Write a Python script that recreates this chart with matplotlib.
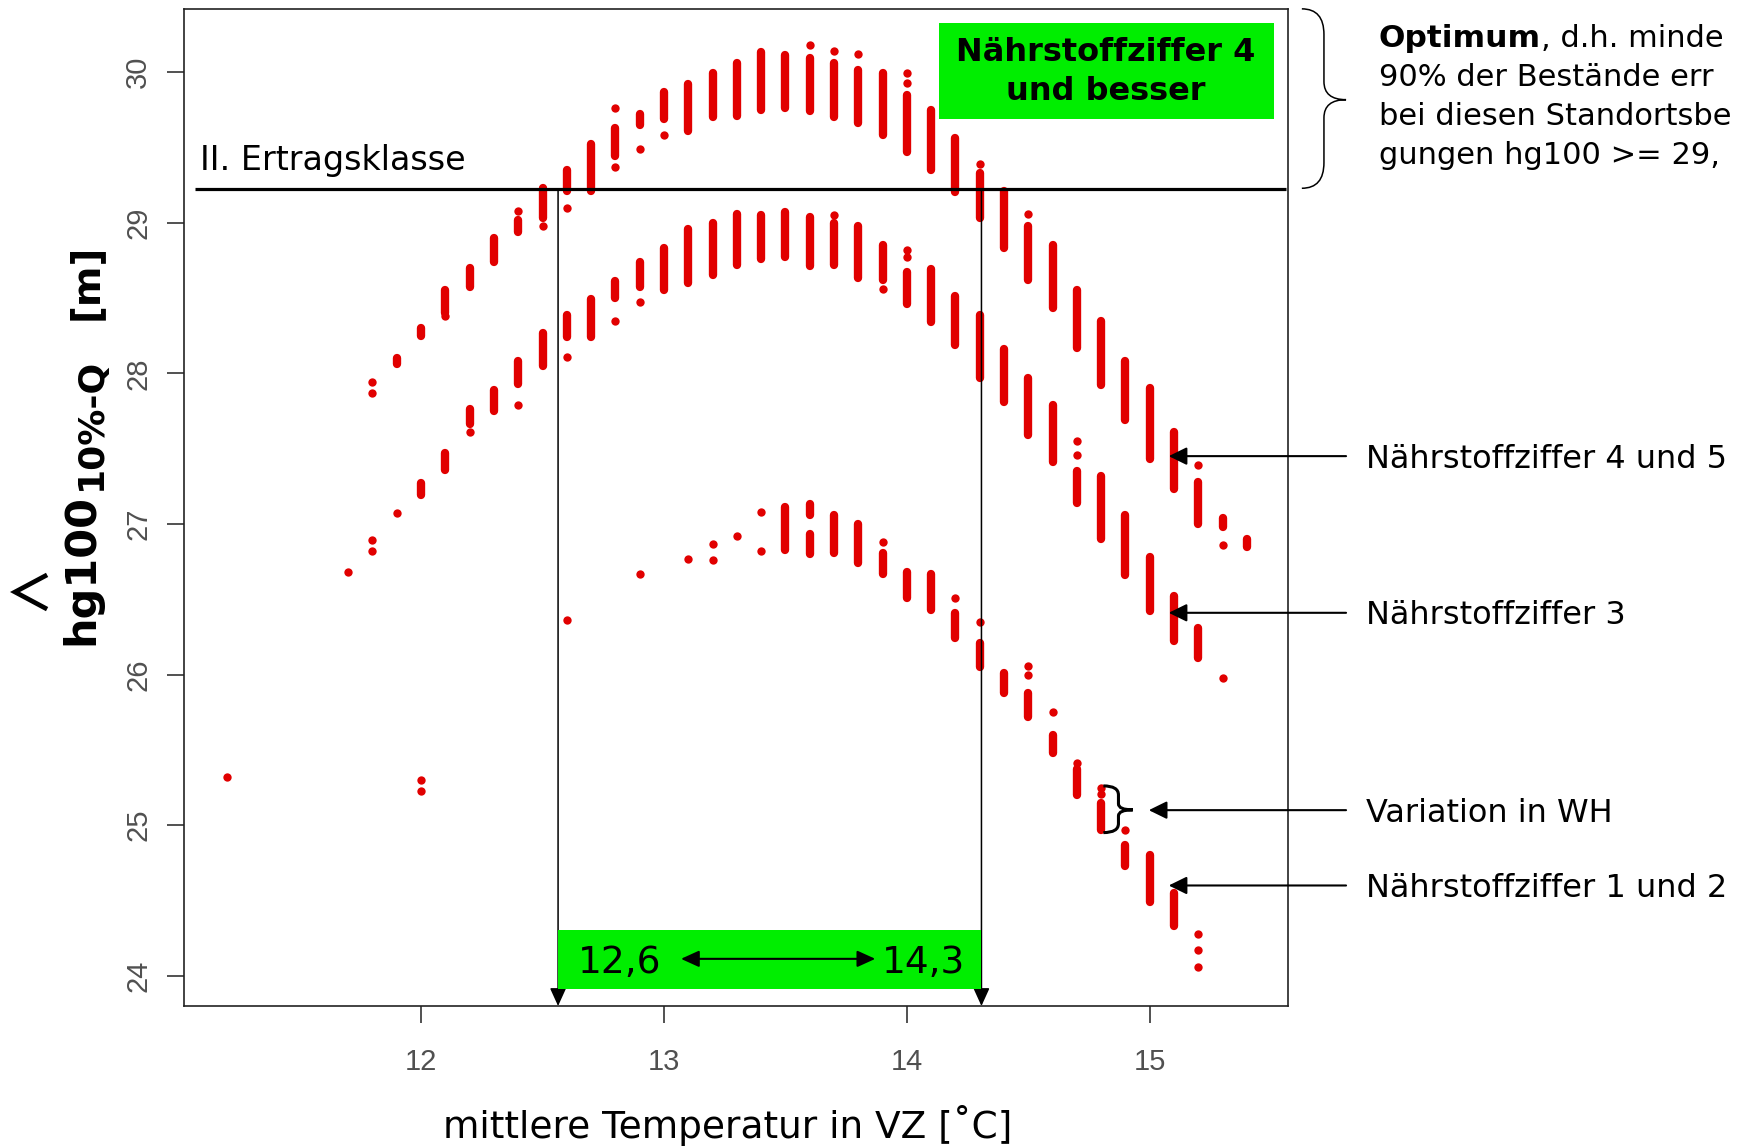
import matplotlib
matplotlib.use("Agg")
import matplotlib.pyplot as plt
from matplotlib.patches import Rectangle, PathPatch
from matplotlib.path import Path
from matplotlib.lines import Line2D

W, H, DPI = 1737, 1147, 100

# ---------------- data ----------------
# float = single stand, tuple (hi, lo) = continuous run of stands
nz45_x = [11.8, 11.9, 12.0, 12.1, 12.2, 12.3, 12.4, 12.5, 12.6, 12.7,
          12.8, 12.9, 13.0, 13.1, 13.2, 13.3, 13.4, 13.5, 13.6, 13.7,
          13.8, 13.9, 14.0, 14.1, 14.2, 14.3, 14.4, 14.5, 14.6, 14.7,
          14.8, 14.9, 15.0, 15.1, 15.2, 15.3, 15.4]
nz45_y = [
    [27.94, 27.87], [(28.10, 28.06)], [(28.30, 28.25)], [(28.55, 28.40), 28.38],
    [(28.70, 28.57)], [(28.90, 28.74)], [29.08, (29.02, 28.94)], [(29.23, 29.03), 28.98],
    [(29.35, 29.21), 29.10], [(29.52, 29.21)],
    [29.76, (29.63, 29.44), 29.37], [(29.72, 29.65), 29.49], [(29.87, 29.69), 29.58],
    [(29.92, 29.61)], [(29.99, 29.70)], [(30.06, 29.71)], [(30.13, 29.75)],
    [(30.11, 29.76)], [30.18, (30.09, 29.74)], [30.14, (30.06, 29.70)],
    [30.12, (30.01, 29.66)], [(29.99, 29.58)], [29.99, 29.93, (29.85, 29.47)],
    [(29.75, 29.35)], [(29.56, 29.20)], [29.39, (29.33, 29.03)], [(29.21, 28.83)],
    [29.06, (28.98, 28.62)], [(28.85, 28.43)], [(28.55, 28.17)],
    [(28.35, 27.92)], [(28.08, 27.69)], [(27.90, 27.43)], [(27.61, 27.23)],
    [27.39, (27.28, 27.00)], [(27.04, 26.98), 26.86], [(26.90, 26.85)],
]

nz3_x = [11.7, 11.8, 11.9, 12.0, 12.1, 12.2, 12.3, 12.4, 12.5, 12.6,
         12.7, 12.8, 12.9, 13.0, 13.1, 13.2, 13.3, 13.4, 13.5, 13.6,
         13.7, 13.8, 13.9, 14.0, 14.1, 14.2, 14.3, 14.4, 14.5, 14.6,
         14.7, 14.8, 14.9, 15.0, 15.1, 15.2, 15.3]
nz3_y = [
    [26.68], [26.89, 26.82], [27.07], [(27.27, 27.19)], [(27.47, 27.36)],
    [(27.76, 27.66), 27.61], [(27.89, 27.75)], [(28.08, 27.93), 27.79], [(28.27, 28.05)],
    [(28.39, 28.24), 28.11],
    [(28.49, 28.24)], [(28.61, 28.50), 28.35], [(28.74, 28.57), 28.47], [(28.83, 28.55)],
    [(28.96, 28.60)], [(29.00, 28.65)], [(29.06, 28.72)], [(29.05, 28.76)],
    [(29.07, 28.77)], [(29.04, 28.71)],
    [29.05, (29.00, 28.72)], [(28.98, 28.63)], [(28.85, 28.62), 28.56],
    [28.82, 28.77, (28.67, 28.46)], [(28.69, 28.34)], [(28.51, 28.19)], [(28.39, 27.97)],
    [(28.16, 27.81)], [(27.97, 27.59)], [(27.79, 27.41)],
    [27.55, 27.46, (27.35, 27.14)], [(27.32, 26.90)], [(27.06, 26.66)], [(26.78, 26.42)],
    [(26.52, 26.22)], [(26.31, 26.11)], [25.98],
]

nz12_x = [11.2, 12.0, 12.6, 12.9, 13.1, 13.2, 13.3, 13.4, 13.5, 13.6,
          13.7, 13.8, 13.9, 14.0, 14.1, 14.2, 14.3, 14.4, 14.5, 14.6,
          14.7, 14.8, 14.9, 15.0, 15.1, 15.2]
nz12_y = [
    [25.32], [25.30, 25.23], [26.36], [26.67], [26.77], [26.87, 26.76], [26.92],
    [27.08, 26.82], [(27.11, 26.83)], [(27.13, 27.06), (26.93, 26.80)],
    [(27.06, 26.81)], [(27.00, 26.74)], [26.88, (26.81, 26.67)], [(26.68, 26.51)],
    [(26.67, 26.43)], [26.51, (26.41, 26.24)], [26.35, (26.21, 26.05)], [(26.01, 25.88)],
    [26.06, 26.00, (25.88, 25.72)], [25.75, (25.60, 25.48)],
    [25.41, (25.37, 25.20)], [25.245, 25.21, (25.15, 24.97)], [24.97, (24.87, 24.73)],
    [(24.80, 24.49)], [(24.55, 24.33)], [24.28, 24.17, 24.06],
]

x_ticks = [12, 13, 14, 15]
y_ticks = [24, 25, 26, 27, 28, 29, 30]
ertrag_y = 29.22          # II. Ertragsklasse
opt_lo_line, opt_hi_line = 12.564, 14.307

# visible part of the side note (it runs off the slide in the original)
note_lines = ["90% der Bestände err",
              "bei diesen Standortsbe",
              "gungen hg100 >= 29,"]

RED = "#E10000"
GREEN = "#00EE00"
TXT = "DejaVu Sans"

fig = plt.figure(figsize=(W / DPI, H / DPI), dpi=DPI)
ax = fig.add_axes([184 / W, 1 - 1006 / H, (1288 - 184) / W, (1006 - 9) / H])
ax.set_xlim(11.024, 15.569)
ax.set_ylim(23.80, 30.418)

MS = 6.0  # dot diameter in points


def draw_series(xs, clusters):
    dx, dy, sx, slo, shi = [], [], [], [], []
    for x, cl in zip(xs, clusters):
        for it in cl:
            if isinstance(it, tuple):
                sx.append(x); shi.append(it[0]); slo.append(it[1])
            else:
                dx.append(x); dy.append(it)
    lc = ax.vlines(sx, slo, shi, colors=RED, linewidth=MS, zorder=3)
    lc.set_capstyle("round")
    ax.scatter(dx, dy, s=MS ** 2, c=RED, linewidths=0, zorder=3)


draw_series(nz45_x, nz45_y)
draw_series(nz3_x, nz3_y)
draw_series(nz12_x, nz12_y)

# axes styling (R look)
for s in ax.spines.values():
    s.set_linewidth(1.2)
    s.set_color("#222222")
ax.set_xticks(x_ticks)
ax.set_xticklabels([str(v) for v in x_ticks], fontfamily="Liberation Sans",
                   fontsize=21, color="#505050")
ax.set_yticks(y_ticks)
ax.set_yticklabels([str(v) for v in y_ticks], fontfamily="Liberation Sans",
                   fontsize=21, color="#505050", rotation=90, va="center")
ax.tick_params(axis="both", direction="out", length=12, width=1.2, color="#333333")
ax.tick_params(axis="x", pad=18)
ax.tick_params(axis="y", pad=11)

# II. Ertragsklasse line
ax.plot([11.07, 15.56], [ertrag_y, ertrag_y], color="black", lw=2.3, zorder=4,
        solid_capstyle="butt")
ax.text(11.09, 29.346, "II. Ertragsklasse", fontsize=24, family=TXT,
        va="baseline", ha="left", zorder=5)

# vertical optimum lines with arrows
for xv in (opt_lo_line, opt_hi_line):
    ax.annotate("", xy=(xv, 23.80), xytext=(xv, ertrag_y),
                arrowprops=dict(arrowstyle="-|>,head_length=0.55,head_width=0.25",
                                lw=1.1, color="black", shrinkA=0, shrinkB=0,
                                mutation_scale=20),
                annotation_clip=False, zorder=4)

# green boxes
ax.add_patch(Rectangle((14.133, 29.69), 15.512 - 14.133, 30.325 - 29.69,
                       facecolor=GREEN, edgecolor="none", zorder=5))
ax.text(14.818, 30.0, "Nährstoffziffer 4\nund besser", fontsize=23,
        fontweight="bold", family=TXT, ha="center", va="center",
        linespacing=1.3, zorder=6)

ax.add_patch(Rectangle((opt_lo_line, 23.914), opt_hi_line - opt_lo_line,
                       24.302 - 23.914, facecolor=GREEN, edgecolor="none", zorder=5))
ax.text(12.819, 24.088, "12,6", fontsize=27, family=TXT, ha="center",
        va="center", zorder=6)
ax.text(14.067, 24.088, "14,3", fontsize=27, family=TXT, ha="center",
        va="center", zorder=6)
ax.annotate("", xy=(13.87, 24.113), xytext=(13.07, 24.113),
            arrowprops=dict(arrowstyle="<|-|>,head_length=0.55,head_width=0.25",
                            lw=1.5, color="black", shrinkA=0, shrinkB=0,
                            mutation_scale=20), zorder=7)

# right-hand labels with arrows
labels = [("Nährstoffziffer 4 und 5", 27.45, 15.078),
          ("Nährstoffziffer 3", 26.41, 15.078),
          ("Variation in WH", 25.10, 14.996),
          ("Nährstoffziffer 1 und 2", 24.60, 15.078)]
for txt, yv, tip in labels:
    ax.annotate("", xy=(tip, yv), xytext=(15.808, yv),
                arrowprops=dict(arrowstyle="-|>,head_length=0.55,head_width=0.27",
                                lw=1.5, color="black", shrinkA=0, shrinkB=0,
                                mutation_scale=20),
                annotation_clip=False, zorder=6)
    ax.text(15.89, yv - 0.02, txt, fontsize=23, family=TXT, ha="left",
            va="center", clip_on=False)


def brace(x0, xs, xt, ytop, ybot, ymid, r, rt, lw):
    verts = [(x0, ytop), (xs, ytop), (xs, ytop - r),
             (xs, ymid + rt),
             (xs, ymid), (xt, ymid),
             (xs, ymid), (xs, ymid - rt),
             (xs, ybot + r),
             (xs, ybot), (x0, ybot)]
    codes = [Path.MOVETO, Path.CURVE3, Path.CURVE3, Path.LINETO,
             Path.CURVE3, Path.CURVE3, Path.CURVE3, Path.CURVE3,
             Path.LINETO, Path.CURVE3, Path.CURVE3]
    ax.add_patch(PathPatch(Path(verts, codes), facecolor="none",
                           edgecolor="black", lw=lw, clip_on=False, zorder=6))


brace(15.626, 15.717, 15.808, 30.419, 29.228, 29.816, 0.17, 0.12, 1.1)
brace(14.809, 14.871, 14.930, 25.261, 24.951, 25.102, 0.06, 0.04, 2.2)


def fx(p):
    return p / W


def fy(p):
    return 1 - p / H


# top-right explanatory text (visible part)
NOTE_FS = 22
t0 = fig.text(fx(1379), fy(38.8), "Optimum", fontsize=NOTE_FS + 0.5,
              fontweight="bold", family=TXT, va="center", ha="left")
fig.canvas.draw()
bb = t0.get_window_extent(fig.canvas.get_renderer())
fig.text(bb.x1 / W, fy(38.8), ", d.h. minde", fontsize=NOTE_FS, family=TXT,
         va="center", ha="left")
for i, line in enumerate(note_lines):
    fig.text(fx(1379), fy(77.5 + 38.8 * i), line, fontsize=NOTE_FS, family=TXT,
             va="center", ha="left")

# x label
fig.text(fx(728), fy(1126), "mittlere Temperatur in VZ [˚C]", fontsize=27,
         family=TXT, ha="center", va="center")

# y label built from parts
fig.text(fx(93), fy(645), "hg100", fontsize=31, fontweight="bold", family=TXT,
         rotation=90, rotation_mode="anchor", ha="left", va="baseline")
fig.text(fx(101), fy(490), "10%-Q", fontsize=26, fontweight="bold", family=TXT,
         rotation=90, rotation_mode="anchor", ha="left", va="baseline")
fig.text(fx(97), fy(320), "[m]", fontsize=28, fontweight="bold", family=TXT,
         rotation=90, rotation_mode="anchor", ha="left", va="baseline")
fig.add_artist(Line2D([fx(45), fx(15), fx(45)], [fy(576), fy(592), fy(608)],
                      transform=fig.transFigure, color="black", lw=3.4,
                      solid_joinstyle="miter"))

fig.savefig("out.png", dpi=DPI)
